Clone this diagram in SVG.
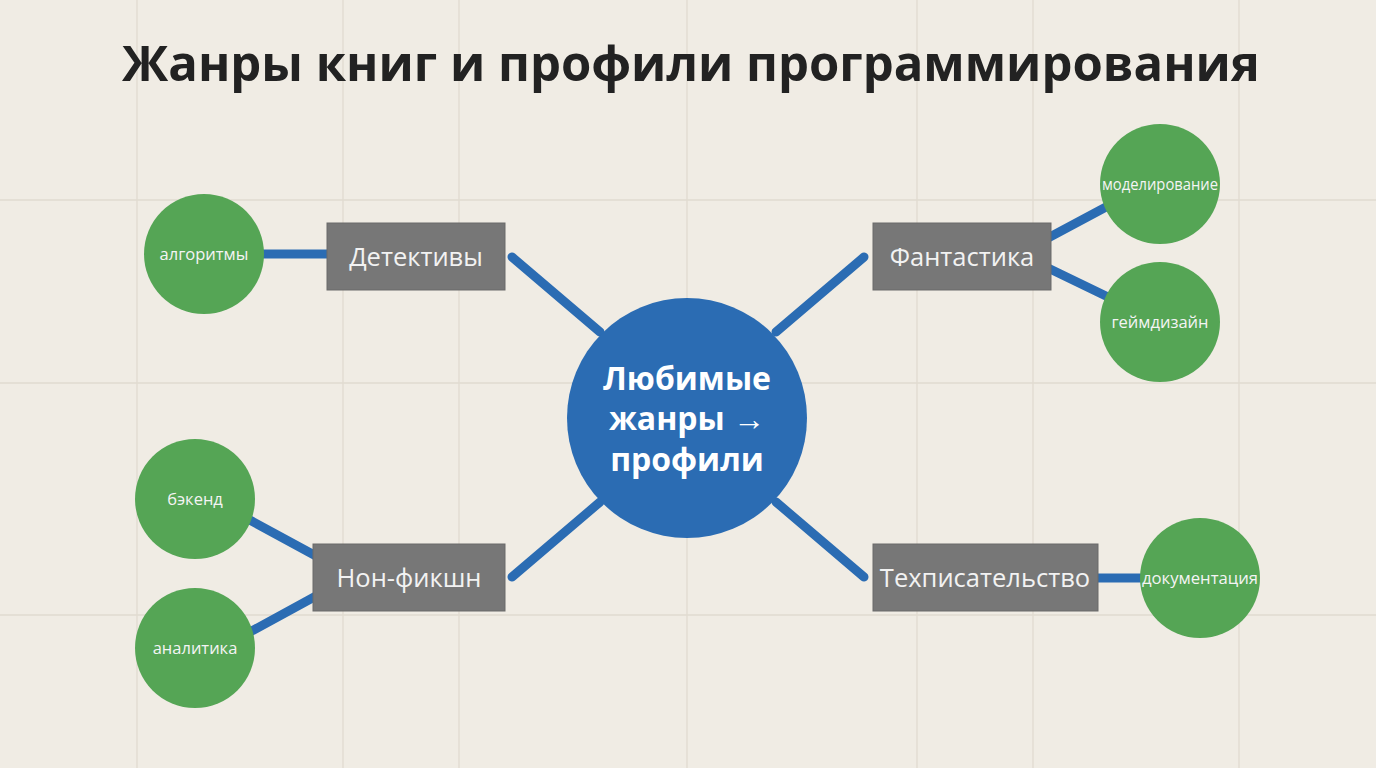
<svg xmlns="http://www.w3.org/2000/svg" width="1376" height="768" viewBox="0 0 1376 768">
<style>
.grid{stroke:#e0dbd0;stroke-width:1.3}
.edge{stroke:#2b6cb3;stroke-width:9;stroke-linecap:round;fill:none}
.box{fill:#777777;stroke:#6a6a6a;stroke-width:1}
.boxt{font-family:"Open Sans","Noto Sans",sans-serif;font-size:25.5px;fill:#f2f2f2;text-anchor:middle}
.leaf{fill:#55a555}
.leaft{font-family:"Open Sans","Noto Sans",sans-serif;font-size:16.5px;fill:#f4f4f4;text-anchor:middle}
.title{font-family:"Open Sans","Noto Sans",sans-serif;font-size:49px;font-weight:bold;fill:#222222;text-anchor:middle}
.ct{font-family:"Open Sans","Noto Sans",sans-serif;font-size:32px;font-weight:bold;fill:#ffffff;text-anchor:middle}
</style>
<rect width="1376" height="768" fill="#f0ece4"/>
<g id="grid">
<line class="grid" x1="137" y1="0" x2="137" y2="768"/>
<line class="grid" x1="343" y1="0" x2="343" y2="768"/>
<line class="grid" x1="459" y1="0" x2="459" y2="768"/>
<line class="grid" x1="687" y1="0" x2="687" y2="768"/>
<line class="grid" x1="917" y1="0" x2="917" y2="768"/>
<line class="grid" x1="1033" y1="0" x2="1033" y2="768"/>
<line class="grid" x1="1239" y1="0" x2="1239" y2="768"/>
<line class="grid" x1="0" y1="200" x2="1376" y2="200"/>
<line class="grid" x1="0" y1="383" x2="1376" y2="383"/>
<line class="grid" x1="0" y1="615" x2="1376" y2="615"/>
</g>
<text class="title" x="691" y="81">Жанры книг и профили программирования</text>
<g id="connectors">
<line class="edge" x1="512" y1="257" x2="600" y2="332"/>
<line class="edge" x1="864" y1="257" x2="776" y2="332"/>
<line class="edge" x1="512" y1="577" x2="600" y2="502"/>
<line class="edge" x1="864" y1="577" x2="776" y2="502"/>
<line class="edge" x1="262" y1="254" x2="330" y2="254"/>
<line class="edge" x1="248" y1="519" x2="316" y2="556"/>
<line class="edge" x1="250" y1="632" x2="316" y2="596"/>
<line class="edge" x1="1048" y1="238" x2="1106" y2="207"/>
<line class="edge" x1="1048" y1="268" x2="1108" y2="297"/>
<line class="edge" x1="1096" y1="578" x2="1144" y2="578"/>
</g>
<g id="center">
<circle cx="687" cy="418" r="120" fill="#2b6cb3"/>
<text class="ct" x="687" y="390">Любимые</text>
<text class="ct" x="687" y="430">жанры →</text>
<text class="ct" x="687" y="471">профили</text>
</g>
<g id="detectives">
<rect class="box" x="327" y="223" width="178" height="67"/>
<text class="boxt" x="416" y="266">Детективы</text>
</g>
<g id="fantasy">
<rect class="box" x="873" y="223" width="178" height="67"/>
<text class="boxt" x="962" y="266">Фантастика</text>
</g>
<g id="nonfiction">
<rect class="box" x="313" y="544" width="192" height="67"/>
<text class="boxt" x="409" y="587">Нон-фикшн</text>
</g>
<g id="techwriting">
<rect class="box" x="873" y="544" width="225" height="67"/>
<text class="boxt" x="985" y="587">Техписательство</text>
</g>
<g id="algorithms">
<circle class="leaf" cx="204" cy="254" r="60"/>
<text class="leaft" x="204" y="260">алгоритмы</text>
</g>
<g id="backend">
<circle class="leaf" cx="195" cy="499" r="60"/>
<text class="leaft" x="195" y="505">бэкенд</text>
</g>
<g id="analytics">
<circle class="leaf" cx="195" cy="648" r="60"/>
<text class="leaft" x="195" y="654">аналитика</text>
</g>
<g id="modeling">
<circle class="leaf" cx="1160" cy="184" r="60"/>
<text class="leaft" x="1160" y="190" textLength="116" lengthAdjust="spacingAndGlyphs">моделирование</text>
</g>
<g id="gamedesign">
<circle class="leaf" cx="1160" cy="322" r="60"/>
<text class="leaft" x="1160" y="328">геймдизайн</text>
</g>
<g id="docs">
<circle class="leaf" cx="1200" cy="578" r="60"/>
<text class="leaft" x="1200" y="584" textLength="116" lengthAdjust="spacingAndGlyphs">документация</text>
</g>
</svg>
